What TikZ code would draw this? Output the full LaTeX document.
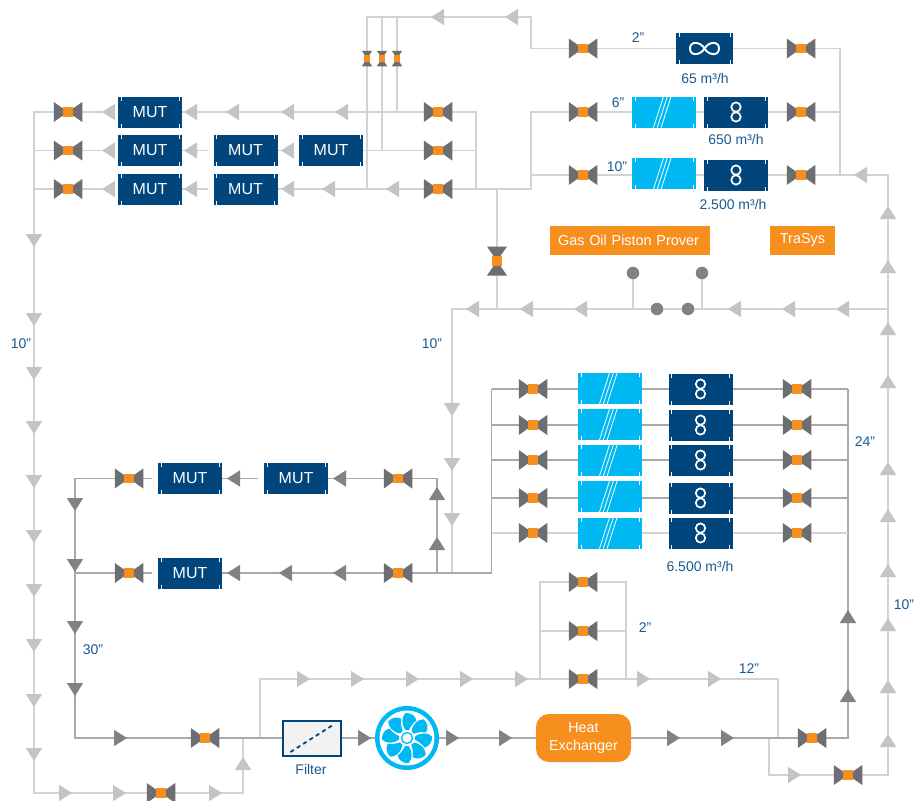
\documentclass[tikz,border=0pt]{standalone}
\usepackage{fontspec}
\setmainfont{Liberation Sans}
\usetikzlibrary{backgrounds}
\definecolor{mblue}{HTML}{00457C}
\definecolor{tblue}{HTML}{00B9F2}
\definecolor{txtblue}{HTML}{1B5A91}
\definecolor{orng}{HTML}{F78F1E}
\definecolor{vgray}{HTML}{6D6E71}
\definecolor{lpipe}{HTML}{D2D3D5}
\definecolor{dpipe}{HTML}{A7A9AC}
\definecolor{larr}{HTML}{C3C4C6}
\definecolor{darr}{HTML}{808285}
\definecolor{dotgray}{HTML}{808285}
\newcommand\pbb{path picture bounding box}
\newcommand\boxticks{%
  \draw[white,line width=.7pt] ([xshift=3pt]\pbb.north west) -- ++(0,4)
    ([xshift=-3pt]\pbb.north east) -- ++(0,4)
    ([xshift=3pt]\pbb.south west) -- ++(0,-4)
    ([xshift=-3pt]\pbb.south east) -- ++(0,-4);}
\tikzset{
  pipeL/.style={draw=lpipe,line width=1.4pt,line join=miter},
  pipeD/.style={draw=dpipe,line width=1.5pt,line join=miter},
  bowH/.style n args={4}{rectangle,inner sep=0pt,outer sep=0pt,minimum width=#1pt,minimum height=#2pt,
    path picture={
      \fill[vgray] (\pbb.north west) -- (\pbb.south west) -- (\pbb.center) -- cycle;
      \fill[vgray] (\pbb.north east) -- (\pbb.south east) -- (\pbb.center) -- cycle;
      \fill[orng] ([shift={(-#3pt,-#4pt)}]\pbb.center) rectangle ([shift={(#3pt,#4pt)}]\pbb.center);}},
  bowV/.style n args={4}{rectangle,inner sep=0pt,outer sep=0pt,minimum width=#1pt,minimum height=#2pt,
    path picture={
      \fill[vgray] (\pbb.north west) -- (\pbb.north east) -- (\pbb.center) -- cycle;
      \fill[vgray] (\pbb.south west) -- (\pbb.south east) -- (\pbb.center) -- cycle;
      \fill[orng] ([shift={(-#3pt,-#4pt)}]\pbb.center) rectangle ([shift={(#3pt,#4pt)}]\pbb.center);}},
  valve/.style={bowH={28.5}{20}{5.3}{4.8}},
  vvalve/.style={bowV={20}{29}{5.2}{5.2}},
  svalve/.style={bowV={10.5}{15.5}{2.6}{3.3}},
  mbox/.style={rectangle,fill=mblue,inner sep=0pt,outer sep=0pt,minimum width=64pt,minimum height=31pt,text=white,
    font=\fontsize{16}{18}\selectfont,path picture={\boxticks}},
  meter/.style={rectangle,fill=mblue,inner sep=0pt,outer sep=0pt,minimum width=#1pt,minimum height=31pt,
    path picture={\boxticks
      \draw[white,line width=1.7pt] ([yshift=4.9pt]\pbb.center) circle (4.7pt) ([yshift=-4.9pt]\pbb.center) circle (4.7pt);}},
  meter/.default=64,
  inf/.style={rectangle,fill=mblue,inner sep=0pt,outer sep=0pt,minimum width=57pt,minimum height=31pt,
    path picture={\boxticks
      \draw[white,line width=1.9pt,shift={(\pbb.center)}] (0,0) .. controls (4,-7) and (14.5,-8) .. (14.5,0)
        .. controls (14.5,8) and (4,7) .. (0,0) .. controls (-4,-7) and (-14.5,-8) .. (-14.5,0)
        .. controls (-14.5,8) and (-4,7) .. cycle;}},
  turb/.style={rectangle,fill=tblue,inner sep=0pt,outer sep=0pt,minimum width=64pt,minimum height=31pt,
    path picture={\boxticks
      \draw[white,line width=.8pt,shift={(\pbb.center)}] (-10.5,15.5) -- (-.5,-15.5) (-6.7,15.5) -- (3.3,-15.5) (-2.9,15.5) -- (7.1,-15.5);}},
  obox/.style={rectangle,fill=orng,inner sep=0pt,outer sep=0pt,text=white,minimum height=29pt,font=\fontsize{14.4}{17}\selectfont},
  lab/.style={text=txtblue,inner sep=0pt,font=\fontsize{14}{16}\selectfont},
  dotn/.style={circle,fill=dotgray,inner sep=0pt,outer sep=0pt,minimum size=12.5pt},
}
\newcommand\tipL[3]{\fill[#1] (#2,#3) -- ++(13,-8.2) -- ++(0,16.4) -- cycle;}
\newcommand\tipR[3]{\fill[#1] (#2,#3) -- ++(-13,-8.2) -- ++(0,16.4) -- cycle;}
\newcommand\tipU[3]{\fill[#1] (#3,#2) -- ++(-8.2,13) -- ++(16.4,0) -- cycle;}
\newcommand\tipD[3]{\fill[#1] (#3,#2) -- ++(-8.2,-13) -- ++(16.4,0) -- cycle;}
\newcommand\mutbox[3]{\fill[white] (#2-38,#3-3) rectangle (#2-32,#3+3);
  \node[mbox] (#1) at (#2,#3) {MUT};}
\begin{document}
\begin{tikzpicture}[x=1pt,y=-1pt]
\useasboundingbox (0,0) rectangle (914,801);
% ---- junctions
\foreach \n/\x/\y in {ja/531/48.5,jb/531/17,jc/367/17,jd/382/17,je/397/17,jf/367/189,jg/382/150.5,jh/397/112,
  ji/531/112,jj/531/189,jk/531/175,jl/476/112,jm/476/189,jn/476/150.5,
  jo/34/112,jp/34/150.5,jq/34/189,jr/34/793,js/243/793,jt/243/738,
  ju/840/48.5,jv/840/112,jw/840/175,jx/888/175,jy/888/775,jz/769/775,ka/769/738,
  kb/888/309,kc/452/309,kd/452/573,ke/497/189,kf/497/309,kg/633/309,kh/702/309,
  ki/848/738,kj/848/389,kk/848/425,kl/848/460,km/848/498,kn/848/533,
  ko/491.5/389,kp/491.5/425,kq/491.5/460,kr/491.5/498,ks/491.5/533,kt/491.5/573,
  ku/437/573,kv/437/478.5,kw/75/478.5,kx/75/738,ky/75/573,
  kz/260/738,la/260/679,lb/778/679,lc/778/738,ld/540/679,le/540/582,lf/626/582,lg/626/679,lh/540/631,li/626/631}
  {\coordinate (\n) at (\x,\y);}
% ---- valves
\foreach \n/\x/\y in {vin1/583/48.5,vin2/583/112,vin3/583/175,vout1/801/48.5,vout2/801/112,vout3/801/175,
  v1a/68/112,v2a/68/150.5,v3a/68/189,v1b/438/112,v2b/438/150.5,v3b/438/189,
  rl1/533/389,rl2/533/425,rl3/533/460,rl4/533/498,rl5/533/533,
  rr1/797/389,rr2/797/425,rr3/797/460,rr4/797/498,rr5/797/533,
  vc/129/478.5,vd/129/573,ve/398/478.5,vf/398/573,vg/205/738,vh/161/793,
  vi/583/582,vj/583/631,vk/583/679,vl/812/738,vm/848/775}
  {\node[valve] (\n) at (\x,\y) {};}
\node[vvalve] (vtop) at (497,261) {};
\node[svalve] (sv1) at (367,58.5) {};
\node[svalve] (sv2) at (382,58.5) {};
\node[svalve] (sv3) at (397,58.5) {};
% ---- meters, turbines
\node[inf] (m65) at (704.5,48.5) {};
\node[turb] (t650) at (664,112) {};
\node[meter] (m650) at (736,112) {};
\node[turb] (t2500) at (664,173.5) {};
\node[meter] (m2500) at (736,175) {};
\foreach \i/\ya/\yb in {1/388.5/389,2/424.5/425,3/460.5/460,4/496.5/498,5/533/533}{
  \node[turb] (t\i) at (610,\ya) {};
  \node[meter] (m\i) at (700.5,\yb) {};
}
% ---- MUT
\mutbox{mu11}{150}{112}
\mutbox{mu21}{150}{150.5}
\mutbox{mu22}{245.5}{150.5}
\mutbox{mu23}{331}{150.5}
\mutbox{mu31}{150}{189}
\mutbox{mu32}{245.5}{189}
\mutbox{mua}{190}{478.5}
\mutbox{mub}{296}{478.5}
\mutbox{muc}{190}{573}
% ---- orange boxes
\node[obox,minimum width=160pt,text width=140pt,align=center] (gas) at (630,240.5) {\hspace*{-3pt}Gas Oil Piston Prover};
\node[obox,minimum width=65pt] (tra) at (802.5,240) {TraSys};
\node[obox,minimum width=95pt,minimum height=48pt,rounded corners=13pt,align=center] (hx) at (583.5,738) {Heat\\[1pt]Exchanger};
% ---- filter
\node[rectangle,draw=mblue,line width=2pt,fill=black!5,inner sep=0pt,minimum width=58pt,minimum height=35pt,
  path picture={\draw[mblue,line width=1.8pt,dash pattern=on 4pt off 3.5pt,shift={(\pbb.center)}] (-21,14) -- (23,-14);}] (flt) at (311.5,738) {};
% ---- fan
\node[circle,fill=tblue,inner sep=0pt,outer sep=0pt,minimum size=64pt] (fan) at (407,738) {};
\begin{scope}[shift={(fan.center)}]
  \fill[white] (0,0) circle (27.5pt);
  \foreach \bladeangle in {0,45,...,315}{
    \begin{scope}[rotate=\bladeangle]
      \fill[tblue] (-1.5,-8) .. controls (-6,-14) and (-5.5,-21) .. (-1.5,-25)
        .. controls (4,-25.5) and (8.5,-22) .. (9.5,-17.5)
        .. controls (6,-15) and (3,-11) .. (2,-8) -- cycle;
    \end{scope}}
  \fill[white] (0,0) circle (7.5pt);
  \draw[tblue,line width=1.3pt] (0,0) circle (5.5pt);
\end{scope}
% ---- dots
\node[dotn] (da) at (633,273) {};
\node[dotn] (db) at (702,273) {};
\node[dotn] (dc) at (657,309) {};
\node[dotn] (dd) at (688,309) {};
% ---- pipes
\begin{scope}[on background layer]
\fill[white] (0,0) rectangle (914,801);
\draw[pipeL] (vin1) -- (ja) -- (jb) -- (jc) -- (sv1) -- (jf);
\draw[pipeL] (jd) -- (sv2) -- (jg);
\draw[pipeL] (je) -- (sv3) -- (jh);
\draw[pipeL] (vin2) -- (ji) -- (jj) -- (jf);
\draw[pipeL] (vin3) -- (jk);
\draw[pipeL] (vin1) -- (m65) -- (vout1) -- (ju) -- (jw);
\draw[pipeL] (vin2) -- (m650) -- (vout2) -- (jv);
\draw[pipeL] (vin3) -- (m2500) -- (vout3) -- (jx) -- (jy) -- (vm) -- (jz) -- (ka);
\draw[pipeL] (v1b) -- (jl) -- (jm);
\draw[pipeL] (v2b) -- (jn);
\draw[pipeL] (v1b) -- (mu11) -- (v1a) -- (jo) -- (jr) -- (js) -- (jt);
\draw[pipeL] (v2b) -- (mu21) -- (v2a) -- (jp);
\draw[pipeL] (v3b) -- (mu31) -- (v3a) -- (jq);
\draw[pipeL] (kb) -- (kc) -- (kd);
\draw[pipeL] (ke) -- (vtop) -- (kf);
\draw[pipeL] (da) -- (kg);
\draw[pipeL] (db) -- (kh);
\draw[pipeL] (kz) -- (la) -- (lb) -- (lc);
\draw[pipeL] (ld) -- (le) -- (vi) -- (lf) -- (lg);
\draw[pipeL] (lh) -- (vj) -- (li);
\draw[pipeD] (vl) -- (ki) -- (kj);
\foreach \i/\a/\b in {1/ko/kj,2/kp/kk,3/kq/kl,4/kr/km}{
  \draw[pipeD] (\a) -- (rl\i) -- (m\i) -- (rr\i) -- (\b);}
\draw[pipeL] (ks) -- (rl5) -- (m5) -- (rr5) -- (kn);
\draw[pipeD] (ko) -- (kt) -- (vf) -- (muc) -- (vd) -- (ky);
\draw[pipeD] (ku) -- (kv) -- (ve) -- (mub) -- (mua) -- (vc) -- (kw) -- (kx) -- (vg) -- (flt) -- (fan) -- (hx) -- (vl);
\end{scope}
% ---- flow arrows
\foreach \x/\y in {431/17,505/17,
  102/112,184/112,226/112,281/112,335/112,
  102/150.5,184/150.5,281/150.5,
  102/189,184/189,281/189,322/189,386/189,
  854/175,466/309,520/309,574/309,728/309,782/309,836/309}{\tipL{larr}{\x}{\y}}
\foreach \x/\y in {227/478.5,333/478.5,227/573,279/573,333/573}{\tipL{darr}{\x}{\y}}
\foreach \x/\y in {72/793,126/793,222/793,310/679,364/679,419/679,473/679,528/679,650/679,721/679,801/775}{\tipR{larr}{\x}{\y}}
\foreach \x/\y in {127/738,371/738,459/738,512/738,680/738,734/738}{\tipR{darr}{\x}{\y}}
\foreach \y in {206,260,322,375,462,509,564,618,680,734}{\tipU{larr}{\y}{888}}
\tipU{larr}{757}{243}
\foreach \y/\x in {487/437,537/437,610/848,689/848}{\tipU{darr}{\y}{\x}}
\foreach \y in {247,326,380,434,488,543,597,652,707,761}{\tipD{larr}{\y}{34}}
\foreach \y in {416,471,526}{\tipD{larr}{\y}{452}}
\foreach \y in {511,572,634,696}{\tipD{darr}{\y}{75}}
% ---- labels
\node[lab] (la1) at (638,38) {2”};
\node[lab] (la2) at (618,103) {6”};
\node[lab] (la3) at (617,167) {10”};
\node[lab] (la4) at (705,78) {65 m³/h};
\node[lab] (la5) at (736,139) {650 m³/h};
\node[lab] (la6) at (733,204) {2.500 m³/h};
\node[lab] (la7) at (21,344) {10”};
\node[lab] (la8) at (432,344) {10”};
\node[lab] (la9) at (865,442) {24”};
\node[lab] (la10) at (904,605) {10”};
\node[lab] (la11) at (749,669) {12”};
\node[lab] (la12) at (645,628) {2”};
\node[lab] (la13) at (93,650) {30”};
\node[lab] (la14) at (700,566) {6.500 m³/h};
\node[lab] (la15) at (311,769) {Filter};
\end{tikzpicture}
\end{document}
